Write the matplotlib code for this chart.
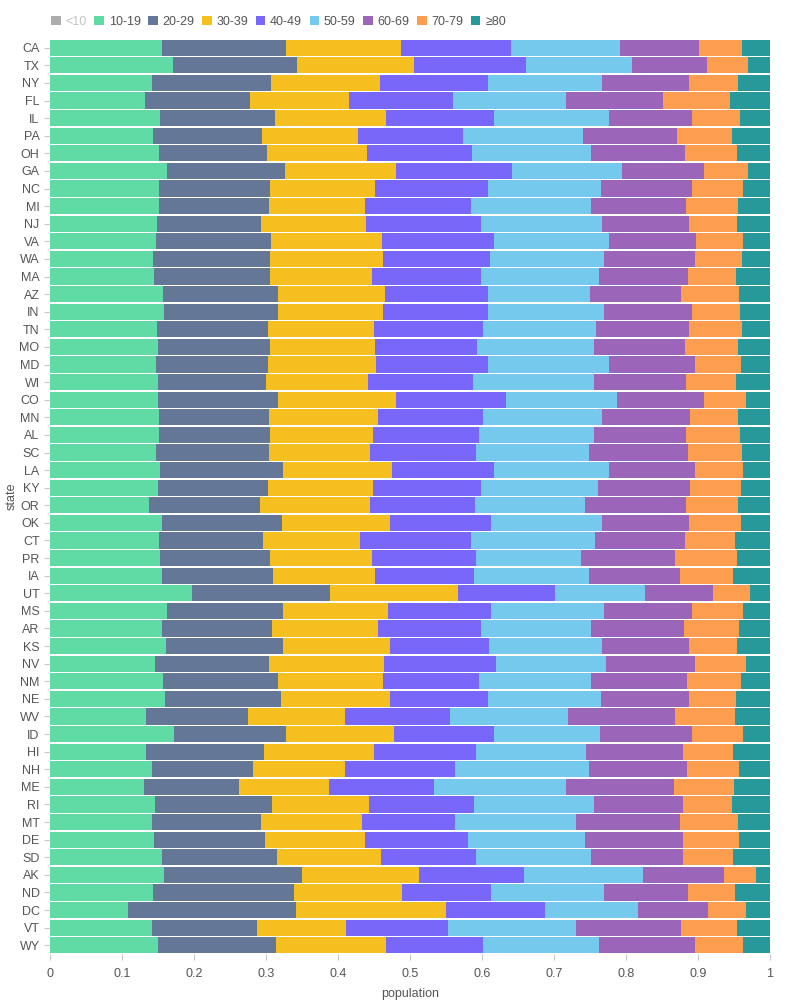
import numpy as np
import matplotlib
matplotlib.use("Agg")
from matplotlib import pyplot as plt
from matplotlib.patches import Patch

plt.rcParams['font.family'] = ['Liberation Sans', 'DejaVu Sans']

states = ["CA", "TX", "NY", "FL", "IL", "PA", "OH", "GA", "NC", "MI", "NJ", "VA", "WA",
          "MA", "AZ", "IN", "TN", "MO", "MD", "WI", "CO", "MN", "AL", "SC", "LA", "KY",
          "OR", "OK", "CT", "PR", "IA", "UT", "MS", "AR", "KS", "NV", "NM", "NE", "WV",
          "ID", "HI", "NH", "ME", "RI", "MT", "DE", "SD", "AK", "ND", "DC", "VT", "WY"]

age_groups = ["<10", "10-19", "20-29", "30-39", "40-49", "50-59", "60-69", "70-79", "≥80"]
hidden_groups = ["<10"]

# share of the visible population per state (same order as states)
age_10_19 = [0.155, 0.171, 0.141, 0.132, 0.153, 0.143, 0.151, 0.162, 0.152, 0.152, 0.148, 0.147, 0.143,
             0.144, 0.157, 0.158, 0.148, 0.150, 0.147, 0.150, 0.150, 0.152, 0.151, 0.147, 0.153, 0.150,
             0.138, 0.156, 0.152, 0.153, 0.155, 0.197, 0.163, 0.155, 0.161, 0.146, 0.157, 0.160, 0.133,
             0.172, 0.133, 0.142, 0.130, 0.146, 0.141, 0.144, 0.156, 0.159, 0.143, 0.108, 0.142, 0.150]
age_20_29 = [0.173, 0.172, 0.166, 0.146, 0.159, 0.151, 0.150, 0.164, 0.154, 0.152, 0.145, 0.160, 0.163,
             0.161, 0.160, 0.158, 0.155, 0.156, 0.156, 0.150, 0.167, 0.152, 0.155, 0.157, 0.170, 0.153,
             0.154, 0.166, 0.144, 0.153, 0.155, 0.192, 0.160, 0.154, 0.163, 0.158, 0.160, 0.161, 0.142,
             0.156, 0.164, 0.140, 0.132, 0.162, 0.152, 0.155, 0.159, 0.191, 0.196, 0.234, 0.145, 0.164]
age_30_39 = [0.159, 0.163, 0.151, 0.137, 0.154, 0.134, 0.139, 0.155, 0.146, 0.134, 0.146, 0.154, 0.157,
             0.142, 0.148, 0.146, 0.147, 0.146, 0.150, 0.142, 0.164, 0.152, 0.143, 0.141, 0.152, 0.146,
             0.153, 0.150, 0.134, 0.141, 0.142, 0.178, 0.146, 0.146, 0.148, 0.160, 0.145, 0.151, 0.135,
             0.150, 0.153, 0.128, 0.125, 0.135, 0.140, 0.139, 0.145, 0.163, 0.150, 0.208, 0.124, 0.153]
age_40_49 = [0.153, 0.155, 0.151, 0.145, 0.151, 0.145, 0.146, 0.161, 0.157, 0.147, 0.160, 0.155, 0.148,
             0.152, 0.143, 0.147, 0.151, 0.141, 0.156, 0.145, 0.152, 0.146, 0.147, 0.146, 0.142, 0.150,
             0.145, 0.141, 0.155, 0.145, 0.137, 0.135, 0.144, 0.143, 0.138, 0.156, 0.134, 0.137, 0.145,
             0.139, 0.142, 0.153, 0.147, 0.146, 0.129, 0.142, 0.131, 0.145, 0.124, 0.138, 0.142, 0.135]
age_50_59 = [0.151, 0.147, 0.158, 0.156, 0.159, 0.167, 0.166, 0.153, 0.156, 0.167, 0.167, 0.161, 0.159,
             0.164, 0.142, 0.160, 0.158, 0.162, 0.167, 0.168, 0.155, 0.165, 0.159, 0.157, 0.159, 0.162,
             0.153, 0.154, 0.172, 0.145, 0.159, 0.125, 0.156, 0.154, 0.157, 0.152, 0.156, 0.156, 0.165,
             0.147, 0.153, 0.185, 0.182, 0.166, 0.168, 0.163, 0.161, 0.166, 0.157, 0.128, 0.178, 0.161]
age_60_69 = [0.110, 0.104, 0.120, 0.136, 0.116, 0.131, 0.130, 0.114, 0.126, 0.132, 0.121, 0.120, 0.126,
             0.123, 0.127, 0.122, 0.129, 0.127, 0.120, 0.128, 0.121, 0.122, 0.129, 0.138, 0.120, 0.128,
             0.140, 0.120, 0.125, 0.131, 0.127, 0.094, 0.122, 0.128, 0.120, 0.124, 0.133, 0.122, 0.148,
             0.127, 0.134, 0.137, 0.150, 0.124, 0.145, 0.136, 0.127, 0.112, 0.116, 0.098, 0.146, 0.133]
age_70_79 = [0.060, 0.057, 0.068, 0.092, 0.066, 0.076, 0.072, 0.061, 0.071, 0.072, 0.067, 0.065, 0.065,
             0.067, 0.080, 0.067, 0.073, 0.073, 0.064, 0.070, 0.058, 0.066, 0.075, 0.075, 0.066, 0.071,
             0.073, 0.073, 0.069, 0.086, 0.073, 0.051, 0.071, 0.077, 0.067, 0.071, 0.075, 0.066, 0.084,
             0.071, 0.069, 0.072, 0.084, 0.068, 0.080, 0.078, 0.069, 0.045, 0.065, 0.053, 0.077, 0.066]
age_80_up = [0.039, 0.031, 0.045, 0.056, 0.042, 0.053, 0.046, 0.030, 0.038, 0.044, 0.046, 0.038, 0.039,
             0.047, 0.043, 0.042, 0.039, 0.045, 0.040, 0.047, 0.033, 0.045, 0.041, 0.039, 0.038, 0.040,
             0.044, 0.040, 0.049, 0.046, 0.052, 0.028, 0.038, 0.043, 0.046, 0.033, 0.040, 0.047, 0.048,
             0.038, 0.052, 0.043, 0.050, 0.053, 0.045, 0.043, 0.052, 0.019, 0.049, 0.033, 0.046, 0.038]

colors = {"<10": "#adadad", "10-19": "#60dba6", "20-29": "#657797", "30-39": "#f6bf20",
          "40-49": "#7867f8", "50-59": "#74c9ed", "60-69": "#9b66ba", "70-79": "#fd9d4f",
          "≥80": "#27999a"}

series = {"10-19": age_10_19, "20-29": age_20_29, "30-39": age_30_39, "40-49": age_40_49,
          "50-59": age_50_59, "60-69": age_60_69, "70-79": age_70_79, "≥80": age_80_up}

# normalize each state to 1 (stack='normalize')
table = np.array([series[g] for g in series])
table = table / table.sum(axis=0)

fig = plt.figure(figsize=(8, 10), dpi=100)
ax = fig.add_axes([0.0625, 0.046, 0.9, 0.915])

y = np.arange(len(states))
left = np.zeros(len(states))
for i, g in enumerate(series):
    ax.barh(y, table[i], left=left, height=0.92, color=colors[g], linewidth=0)
    left += table[i]

ax.set_ylim(len(states) - 0.5, -0.5)
ax.set_xlim(0, 1)
ax.set_yticks(y)
ax.set_yticklabels(states)
ax.set_xticks(np.arange(0, 1.01, 0.1))
ax.set_xticklabels(["0"] + [f"{v:.1f}" for v in np.arange(0.1, 0.95, 0.1)] + ["1"])
ax.tick_params(axis='both', colors='#c8c8c8', labelcolor='#555555', labelsize=9, length=4, width=0.8)
ax.tick_params(axis='x', pad=6)
for s in ax.spines.values():
    s.set_visible(False)

ax.set_xlabel("population", fontsize=9, color='#555555', labelpad=6)
ax.set_ylabel("state", fontsize=9, color='#555555', labelpad=1)

handles = [Patch(facecolor=colors[g], edgecolor='none') for g in age_groups]
leg = fig.legend(handles, age_groups, loc='upper left', bbox_to_anchor=(0.05, 0.995), ncol=9,
                 frameon=False, fontsize=9, handlelength=0.75, handleheight=0.75,
                 handletextpad=0.4, columnspacing=0.6)
for txt, g in zip(leg.get_texts(), age_groups):
    txt.set_color('#c4c4c4' if g in hidden_groups else '#555555')

fig.savefig("out.png", dpi=100, facecolor='white')
